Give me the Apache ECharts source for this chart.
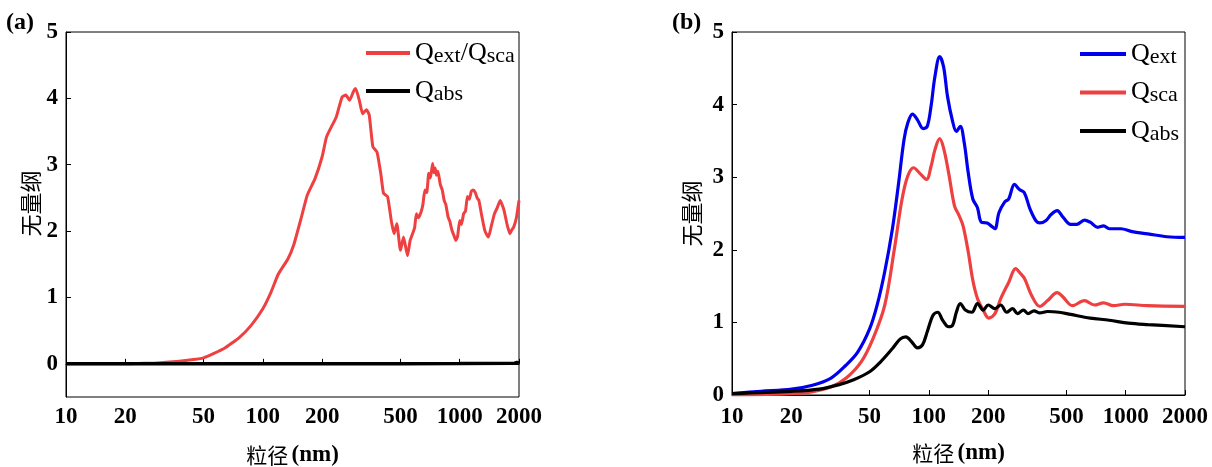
<!DOCTYPE html>
<html>
<head>
<meta charset="utf-8">
<script src="https://cdn.jsdelivr.net/npm/echarts@6/dist/echarts.min.js"></script>
<style>html,body{margin:0;padding:0;background:#fff}#c{width:1212px;height:467px}</style>
</head>
<body>
<div id="c"></div>
<script>
// ---- tick labels ----
const xTicks = [10, 20, 50, 100, 200, 500, 1000, 2000];
const yTicks = [0, 1, 2, 3, 4, 5];

// ---- panel (a) ----
const aSizes = [10, 15, 20, 25, 28.2, 35, 40.4, 50, 63.5, 76.1, 87.2, 100, 109.3, 119.7, 134, 143.4, 157, 168, 184, 200, 210.6, 225.4, 236, 252.5, 264, 276, 289, 296, 309, 321, 336, 347, 362, 380, 397, 410, 430, 450, 464, 479, 500, 518, 543, 560,
  581, 590, 602, 615, 635, 650, 665, 680, 696, 710, 728, 740, 750, 762, 775, 797, 815, 834, 850, 873, 890, 913, 930, 955, 975, 1000, 1020, 1046, 1070, 1094, 1120, 1145, 1170, 1200, 1225, 1252, 1290, 1340, 1370, 1400, 1440, 1500, 1550, 1605, 1640, 1680, 1740, 1798, 1840, 1880, 1940, 2000];
const aSca = [0.00, 0.00, 0.00, 0.01, 0.01, 0.03, 0.05, 0.09, 0.23, 0.40, 0.58, 0.83, 1.06, 1.35, 1.58, 1.79, 2.21, 2.54, 2.79, 3.12, 3.42, 3.60, 3.72, 4.02, 4.05, 3.97, 4.11, 4.15, 3.97, 3.77, 3.83, 3.75, 3.27, 3.19, 2.87, 2.57, 2.52, 2.14, 1.96, 2.11, 1.71, 1.91, 1.63, 1.86,
  1.99, 2.05, 2.26, 2.20, 2.28, 2.40, 2.62, 2.58, 2.87, 2.80, 3.02, 2.88, 2.95, 2.84, 2.90, 2.70, 2.62, 2.46, 2.40, 2.21, 2.15, 2.01, 1.95, 1.86, 1.92, 2.16, 2.10, 2.26, 2.30, 2.52, 2.48, 2.60, 2.62, 2.58, 2.50, 2.46, 2.25, 2.01, 1.95, 1.91, 2.05, 2.26, 2.35, 2.46, 2.40, 2.31, 2.10, 1.96, 2.02, 2.06, 2.20, 2.46];
const aAbsSizes = [10, 100, 500, 1000, 1900, 1950, 2000];
const aAbs = [0.00, 0.00, 0.00, 0.005, 0.01, 0.02, 0.01];

// ---- panel (b) ----
const bExtSizes = [10, 14, 20.1, 25.3, 31.7, 37.9, 43.5, 50, 54.5, 59.6, 65.3, 69.9, 74.8, 78.2, 82.6, 87.5, 93.6, 98.1, 102.6, 107.4, 113.5, 118.8, 124.4, 132, 137.9, 144.4, 151.3, 158.5, 167.2, 176.5, 184.8, 197.7, 207, 216.6, 226.9, 242.9, 254.3, 272.2, 288.7, 305, 326.6, 349.8, 366, 392, 419, 448, 480, 525, 563, 617, 660, 721, 772, 825, 944, 1079, 1294, 1620, 2000];
const bExt = [0.02, 0.05, 0.08, 0.13, 0.23, 0.41, 0.59, 0.91, 1.23, 1.69, 2.29, 2.88, 3.52, 3.75, 3.87, 3.79, 3.67, 3.70, 3.98, 4.39, 4.66, 4.52, 4.11, 3.77, 3.63, 3.70, 3.47, 3.06, 2.70, 2.58, 2.38, 2.37, 2.33, 2.29, 2.51, 2.66, 2.70, 2.90, 2.83, 2.79, 2.56, 2.40, 2.37, 2.40, 2.49, 2.54, 2.45, 2.35, 2.35, 2.41, 2.38, 2.31, 2.33, 2.29, 2.29, 2.25, 2.22, 2.18, 2.17];
const bScaSizes = [10, 20, 25, 31.7, 37.9, 45.4, 52.1, 59.6, 66.8, 73.1, 78.2, 83.7, 89.5, 97.2, 102.6, 107.4, 113.5, 118.8, 126, 134.8, 142.4, 149.2, 158.5, 167.2, 176.5, 188.8, 201.4, 216.6, 232, 254.3, 276, 290.6, 306.5, 332.6, 366, 401, 448, 480, 536, 617, 692, 772, 866, 988, 1294, 2000];
const bSca = [0.00, 0.02, 0.04, 0.11, 0.23, 0.46, 0.78, 1.23, 2.01, 2.70, 3.02, 3.13, 3.06, 2.97, 3.15, 3.38, 3.53, 3.40, 3.06, 2.61, 2.47, 2.33, 1.97, 1.58, 1.33, 1.17, 1.06, 1.12, 1.33, 1.55, 1.74, 1.68, 1.60, 1.37, 1.22, 1.30, 1.41, 1.35, 1.23, 1.30, 1.24, 1.27, 1.23, 1.25, 1.23, 1.22];
const bAbsSizes = [10, 20, 27.7, 34.7, 41.5, 50, 57, 65.3, 71.4, 76.4, 81.9, 87.5, 92.8, 98.1, 105, 111, 117.5, 126, 132, 137.9, 144.4, 153.2, 165.4, 176.5, 188.8, 200.2, 216.6, 232, 248.5, 266.3, 282, 302, 319, 342, 366, 401, 458, 525, 660, 825, 1033, 1294, 2000];
const bAbs = [0.02, 0.05, 0.08, 0.14, 0.21, 0.32, 0.46, 0.64, 0.77, 0.80, 0.73, 0.65, 0.69, 0.87, 1.10, 1.14, 1.03, 0.94, 0.96, 1.14, 1.26, 1.17, 1.14, 1.26, 1.17, 1.24, 1.19, 1.24, 1.14, 1.19, 1.12, 1.17, 1.12, 1.16, 1.13, 1.15, 1.14, 1.11, 1.06, 1.03, 0.99, 0.97, 0.94];

const names = {
  aSca: '{q|Q}{s|ext}{q|/Q}{s|sca}',
  aAbs: '{q|Q}{s|abs}',
  bExt: '{q|Q}{s|ext}',
  bSca: '{q|Q}{s|sca}',
  bAbs: '{q|Q}{s|abs}'
};

const SERIF = '"Liberation Serif", "Times New Roman", serif';
const CJK = '"Noto Sans CJK SC", sans-serif';
const RED = '#EE4040', BLUE = '#0000EE', BLACK = '#000000';

function pts(sizes, vals) { return sizes.map((s, i) => [Math.log10(s), vals[i]]); }
const lx = xTicks.map(v => Math.log10(v));

function xAxis(gi, gap) {
  return {
    type: 'value', gridIndex: gi, min: 1, max: Math.log10(2000),
    axisLine: { show: true, lineStyle: { color: '#000', width: 1 } },
    axisTick: { show: true, inside: true, length: 5, customValues: lx, lineStyle: { color: '#000' } },
    axisLabel: { customValues: lx, formatter: v => String(Math.round(Math.pow(10, v))), color: '#000', fontFamily: SERIF, fontWeight: 'bold', fontSize: 23, margin: gap, showMinLabel: true, showMaxLabel: true },
    splitLine: { show: false },
    name: '{c|粒径} {b|(nm)}', nameLocation: 'middle', nameGap: 47,
    nameTextStyle: { rich: { c: { fontFamily: CJK, fontSize: 21, color: '#000' }, b: { fontFamily: SERIF, fontWeight: 'bold', fontSize: 23, color: '#000' } } }
  };
}
function yAxis(gi, min, gap, pad) {
  return {
    type: 'value', gridIndex: gi, min: min, max: 5,
    axisLine: { show: true, lineStyle: { color: '#000', width: 1 } },
    axisTick: { show: true, inside: true, length: 5, customValues: yTicks, lineStyle: { color: '#000' } },
    axisLabel: { customValues: yTicks, color: '#000', fontFamily: SERIF, fontWeight: 'bold', fontSize: 23, margin: 8 },
    splitLine: { show: false },
    name: '无量纲', nameLocation: 'middle', nameGap: gap,
    nameTextStyle: { fontFamily: CJK, fontSize: 22, color: '#000', padding: pad }
  };
}
function line(name, xi, sizes, vals, color, smooth, w) {
  return {
    type: 'line', name: name, xAxisIndex: xi, yAxisIndex: xi,
    data: pts(sizes, vals), showSymbol: false, symbol: 'none', smooth: smooth,
    lineStyle: { color: color, width: w }, itemStyle: { color: color }, clip: true
  };
}
const legendText = {
  color: '#000',
  rich: {
    q: { fontFamily: SERIF, fontSize: 26, color: '#000', lineHeight: 28 },
    s: { fontFamily: SERIF, fontSize: 22, color: '#000', lineHeight: 28, verticalAlign: 'bottom', padding: [9, 0, 0, 0] }
  }
};

const chart = echarts.init(document.getElementById('c'), null, { renderer: 'canvas' });
chart.setOption({
  animation: false,
  backgroundColor: '#fff',
  grid: [
    { left: 66, top: 32, width: 453, height: 365, show: true, borderColor: '#000', borderWidth: 1, backgroundColor: 'transparent', containLabel: false, outerBoundsMode: 'none' },
    { left: 732, top: 32, width: 453, height: 363, show: true, borderColor: '#000', borderWidth: 1, backgroundColor: 'transparent', containLabel: false, outerBoundsMode: 'none' }
  ],
  xAxis: [xAxis(0, 9), xAxis(1, 11)],
  yAxis: [yAxis(0, -0.5, 24, [0, 0, 0, 22]), yAxis(1, 0, 29, 0)],
  legend: [
    { orient: 'vertical', left: 366, top: 36, padding: 0, itemGap: 7, itemWidth: 44, itemHeight: 4, icon: 'rect',
      data: ['aSca', 'aAbs'], formatter: n => names[n], textStyle: legendText },
    { orient: 'vertical', left: 1080, top: 37, padding: 0, itemGap: 7.5, itemWidth: 46, itemHeight: 4, icon: 'rect',
      data: ['bExt', 'bSca', 'bAbs'], formatter: n => names[n], textStyle: legendText }
  ],
  graphic: [
    { type: 'text', left: 6, top: 11, style: { text: '(a)', font: 'bold 24px ' + SERIF, fill: '#000' } },
    { type: 'text', left: 672, top: 11, style: { text: '(b)', font: 'bold 24px ' + SERIF, fill: '#000' } }
  ],
  series: [
    line('aSca', 0, aSizes, aSca, RED, 0.15, 3),
    line('aAbs', 0, aAbsSizes, aAbs, BLACK, false, 3.5),
    line('bExt', 1, bExtSizes, bExt, BLUE, 0.35, 3.2),
    line('bSca', 1, bScaSizes, bSca, RED, 0.35, 3.2),
    line('bAbs', 1, bAbsSizes, bAbs, BLACK, 0.35, 3.2)
  ]
});
</script>
</body>
</html>
